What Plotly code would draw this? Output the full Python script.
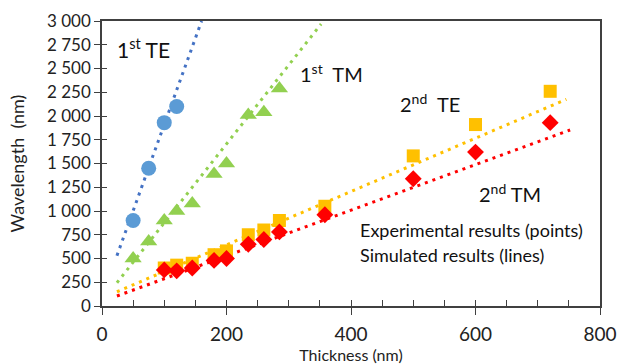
import plotly.graph_objects as go

# ---- experimental data (points) ----
te1_x = [50, 75, 100, 120]
te1_y = [900, 1450, 1930, 2100]

tm1_x = [50, 75, 100, 120, 145, 180, 200, 235, 260, 285]
tm1_y = [500, 680, 900, 1000, 1080, 1390, 1500, 2010, 2040, 2290]

te2_x = [100, 120, 145, 180, 200, 235, 260, 285, 358, 500, 600, 720]
te2_y = [400, 430, 450, 540, 580, 750, 800, 900, 1050, 1580, 1910, 2260]

tm2_x = [100, 120, 145, 180, 200, 235, 260, 285, 358, 500, 600, 720]
tm2_y = [380, 370, 400, 480, 500, 650, 700, 780, 960, 1340, 1620, 1930]

# ---- simulated data (lines) ----
sim_te1_x = [24, 160]
sim_te1_y = [530, 3000]
sim_tm1_x = [24, 352]
sim_tm1_y = [245, 2968]
sim_te2_x = [24, 746]
sim_te2_y = [150, 2176]
sim_tm2_x = [24, 752]
sim_tm2_y = [105, 1853]

y_ticks = [0, 250, 500, 750, 1000, 1250, 1500, 1750, 2000, 2250, 2500, 2750, 3000]
y_ticktext = ["0", "250", "500", "750", "1 000", "1 250", "1 500", "1 750",
              "2 000", "2 250", "2 500", "2 750", "3 000"]
x_ticks = [0, 200, 400, 600, 800]

FONT = "Lato"
BLUE_L, BLUE_M = "#4472C4", "#5B9BD5"
GREEN = "#92D050"
ORANGE = "#FFC000"
RED = "#FF0000"

fig = go.Figure()

def sim(x, y, color):
    fig.add_trace(go.Scatter(x=x, y=y, mode="lines", cliponaxis=True,
                             line=dict(color=color, width=3, dash="3px,5px"),
                             showlegend=False, hoverinfo="skip"))

sim(sim_te1_x, sim_te1_y, BLUE_L)
sim(sim_tm1_x, sim_tm1_y, GREEN)
sim(sim_te2_x, sim_te2_y, ORANGE)
sim(sim_tm2_x, sim_tm2_y, RED)

fig.add_trace(go.Scatter(x=te1_x, y=te1_y, mode="markers", showlegend=False,
                         marker=dict(symbol="circle", size=15, color=BLUE_M)))
fig.add_trace(go.Scatter(x=tm1_x, y=tm1_y, mode="markers", showlegend=False,
                         marker=dict(symbol="triangle-up", size=15, color=GREEN)))
fig.add_trace(go.Scatter(x=te2_x, y=te2_y, mode="markers", showlegend=False,
                         marker=dict(symbol="square", size=13, color=ORANGE)))
fig.add_trace(go.Scatter(x=tm2_x, y=tm2_y, mode="markers", showlegend=False,
                         marker=dict(symbol="diamond", size=13, color=RED)))

# invisible trace on overlay axes for inside (cross) ticks
fig.add_trace(go.Scatter(x=[0], y=[0], xaxis="x2", yaxis="y2", mode="markers",
                         marker=dict(opacity=0), showlegend=False, hoverinfo="skip"))

AX = "#404040"
fig.update_layout(
    width=617, height=364,
    margin=dict(l=102, r=17, t=21, b=58, autoexpand=False),
    paper_bgcolor="white", plot_bgcolor="white",
    font=dict(family=FONT, color="#222222"),
    xaxis=dict(range=[0, 800], tickvals=x_ticks, ticks="outside", ticklen=7,
               tickcolor=AX, showline=True, linecolor=AX, linewidth=1.5, mirror=True,
               showgrid=False, zeroline=False, automargin=False, ticklabelstandoff=3,
               tickfont=dict(size=19, family=FONT),
               title=dict(text="Thickness (nm)", font=dict(size=16, family=FONT), standoff=4)),
    yaxis=dict(range=[0, 3000], tickvals=y_ticks, ticktext=y_ticktext, ticks="outside",
               ticklen=6, tickcolor=AX, showline=True, linecolor=AX, linewidth=1.5,
               mirror=True, showgrid=False, zeroline=False, automargin=False,
               tickfont=dict(size=17, family=FONT),
               title=dict(text="Wavelength  (nm)", font=dict(size=18, family=FONT), standoff=18)),
    xaxis2=dict(overlaying="x", matches="x", anchor="y2", side="bottom", range=[0, 800],
                tickmode="linear", tick0=0, dtick=50, ticks="inside", ticklen=6,
                tickcolor=AX, showticklabels=False, showgrid=False, zeroline=False,
                showline=False),
    yaxis2=dict(overlaying="y", matches="y", anchor="x2", side="left", range=[0, 3000],
                tickmode="linear", tick0=0, dtick=250, ticks="inside", ticklen=5,
                tickcolor=AX, showticklabels=False, showgrid=False, zeroline=False,
                showline=False),
)

def ann(x, y, text, size, xanchor="center"):
    fig.add_annotation(x=x, y=y, xref="x", yref="y", text=text, showarrow=False,
                       xanchor=xanchor, yanchor="middle",
                       font=dict(size=size, family=FONT, color="#111111"))

ann(66, 2720, "1<sup>st</sup> TE", 21)
ann(369, 2450, "1<sup>st</sup>  TM", 20)
ann(527, 2140, "2<sup>nd</sup>  TE", 20)
ann(655, 1190, "2<sup>nd</sup> TM", 20)
ann(411, 800, "Experimental results (points)", 18, "left")
ann(411, 537, "Simulated results (lines)", 18, "left")

fig.write_html("out.html")
